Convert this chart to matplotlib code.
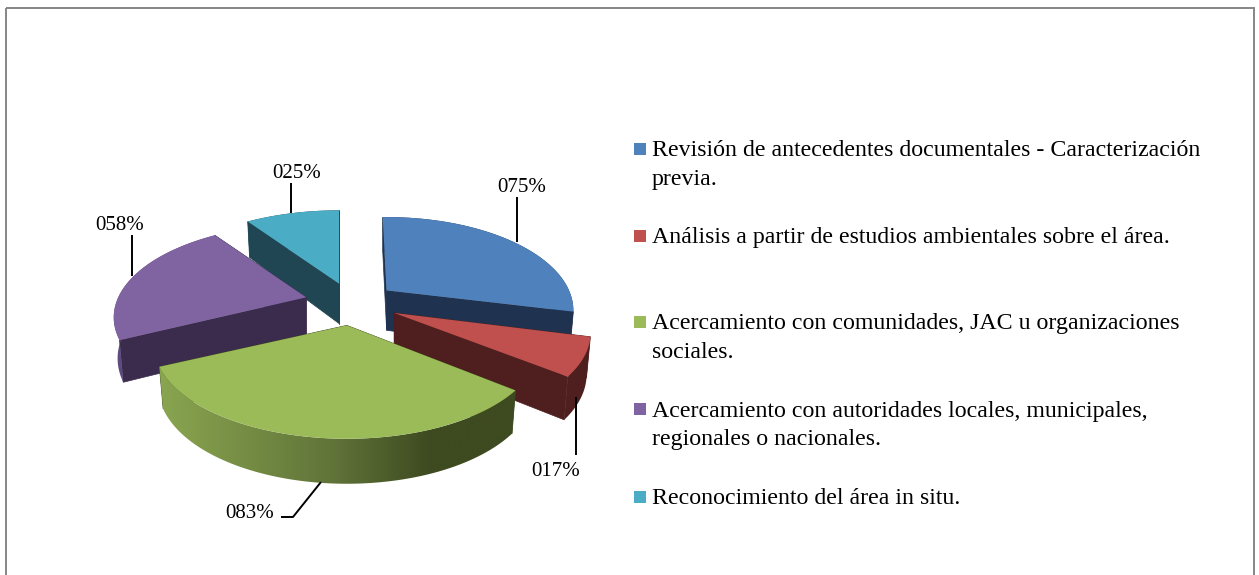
import numpy as np
import matplotlib
matplotlib.use('Agg')
import matplotlib.pyplot as plt
from matplotlib.colors import LinearSegmentedColormap
from matplotlib.patches import Polygon, Rectangle

labels = [
    'Revisión de antecedentes documentales - Caracterización\nprevia.',
    'Análisis a partir de estudios ambientales sobre el área.',
    'Acercamiento con comunidades, JAC u organizaciones\nsociales.',
    'Acercamiento con autoridades locales, municipales,\nregionales o nacionales.',
    'Reconocimiento del área in situ.',
]
values = [75, 17, 83, 58, 25]
top_colors = ['#4F81BD', '#C0504D', '#9BBB59', '#8064A2', '#4BACC6']
cut_colors = ['#1F3350', '#4F1E1E', '#3E4A20', '#3B2B4C', '#1F4652']
rim_colors = ['#1F3350', '#4F1E1E', None, '#5F4A80', '#1F4652']

plt.rcParams['font.family'] = ['Liberation Serif', 'DejaVu Serif']

# pie geometry in image pixels
cx, cy = 352, 303
rx, ry = 188, 89
persp = 0.215
explode = [0.24, 0.245, 0.24, 0.255, 0.24]
radius = [0.97, 1.02, 1.0, 1.0, 1.0]
turn = [-1.5, 0, 0.8, 0, 0]
label_size = 15
legend_size = 17.2

fig = plt.figure(figsize=(12.59, 5.75), dpi=100)
ax = fig.add_axes([0, 0, 1, 1])

ax.add_patch(Rectangle((6, 8), 1248, 580, fill=False, edgecolor='#868686', linewidth=1.4))


def project(u, v):
    s = 1 / (1 + persp * v)
    return rx * u * s, -ry * v * s


def depth(v):
    return 40 - 5 * v


def outline(apex, t, scale):
    # top rim and bottom rim of one slice for clockwise angles t
    u, v = np.sin(t), np.cos(t)
    x, y = project(u, v)
    top = np.column_stack([apex[0] + scale * x, apex[1] + y])
    bottom = np.column_stack([apex[0] + 0.98 * scale * x, apex[1] + y + depth(v)])
    return top, bottom


green_side = LinearSegmentedColormap.from_list(
    'green_side', [(0, '#8AA650'), (0.5, '#5F7238'), (0.76, '#3E4A20'), (1, '#3E4A20')])

edges = np.cumsum([0] + values) / sum(values) * 2 * np.pi

# back to front: cyan, blue, purple, red, green
for zo, i in enumerate([4, 0, 3, 1, 2]):
    mid = (edges[i] + edges[i + 1]) / 2
    ex, ey = project(explode[i] * np.sin(mid), explode[i] * np.cos(mid))
    apex = (cx + ex, cy + ey)
    t = np.linspace(edges[i], edges[i + 1], 160) + np.radians(turn[i])
    top, bottom = outline(apex, t, radius[i])
    apex_bottom = (apex[0], apex[1] + depth(0))
    base = 10 + zo * 5
    # the two cut faces
    for k in (0, -1):
        ax.add_patch(Polygon([apex, top[k], bottom[k], apex_bottom], closed=True,
                             facecolor=cut_colors[i], edgecolor=cut_colors[i], linewidth=0.5, zorder=base))
    # outer side
    side = Polygon(np.vstack([top, bottom[::-1]]), closed=True, zorder=base + 1,
                   facecolor=rim_colors[i] if rim_colors[i] else 'none', edgecolor='none')
    ax.add_patch(side)
    if rim_colors[i] is None:
        shade = np.linspace(0, 1, 256).reshape(1, -1)
        im = ax.imshow(shade, cmap=green_side, aspect='auto', zorder=base + 1,
                       extent=(top[:, 0].min(), top[:, 0].max(), 575, 0))
        im.set_clip_path(side)
    # top face
    ax.add_patch(Polygon(np.vstack([apex, top]), closed=True, facecolor=top_colors[i],
                         edgecolor='none', zorder=base + 2))

# data labels with their leader lines
leaders = [
    ([517, 517], [197, 242], (522, 188)),
    ([576, 576], [397, 455], (556, 471)),
    ([321, 293, 281], [482, 517, 517], (250, 513)),
    ([132, 132], [235, 276], (120, 226)),
    ([291, 291], [183, 213], (297, 173)),
]
for val, (lx, ly, pos) in zip(values, leaders):
    ax.plot(lx, ly, color='black', linewidth=1.4, zorder=40, solid_capstyle='butt')
    ax.text(pos[0], pos[1], f'{val:03d}%', fontsize=label_size, ha='center', va='center', color='black', zorder=41)

# legend, drawn by hand because the rows are unevenly spaced
legend_y = [149, 236, 322, 409, 497]
for lab, col, y in zip(labels, top_colors, legend_y):
    ax.add_patch(Rectangle((634, y - 6), 12, 12, facecolor=col, edgecolor='none'))
    for n, line in enumerate(lab.split('\n')):
        ax.text(652, y + n * 28 + 2, line, fontsize=legend_size, ha='left', va='center', color='black')

ax.set_xlim(0, 1259)
ax.set_ylim(575, 0)
ax.axis('off')

fig.savefig('out.png', dpi=100, facecolor='white')
